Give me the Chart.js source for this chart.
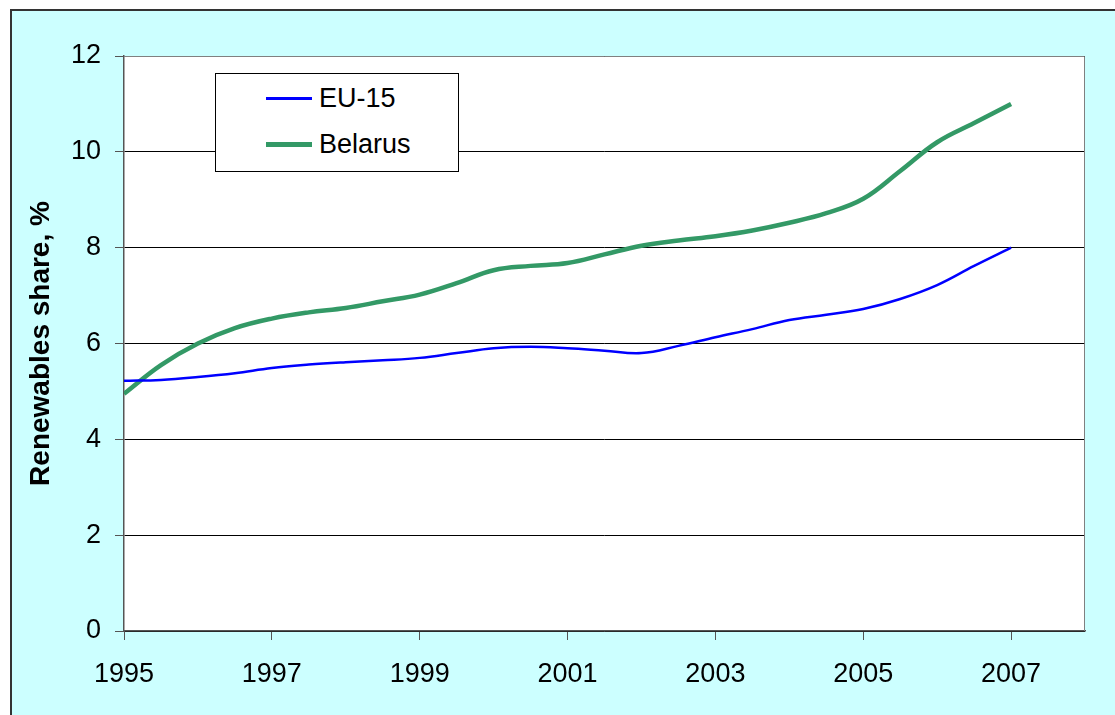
<!DOCTYPE html>
<html>
<head>
<meta charset="utf-8">
<script src="https://cdn.jsdelivr.net/npm/chart.js@4"></script>
<style>
  body { margin: 0; background: #fff; font-family: "Liberation Sans", Arial, sans-serif; }
  #wrap { position: relative; width: 1115px; height: 715px; }
  #legend {
    position: absolute; left: 215px; top: 73px; width: 242px; height: 97px;
    border: 1px solid #000; background: #fff; font-size: 27px; color: #000;
  }
  .row { position: absolute; left: 50px; display: flex; align-items: center; }
  .swatch { width: 46px; margin-right: 7px; }
</style>
</head>
<body>
<div id="wrap">
  <canvas id="myChart" width="1115" height="715"></canvas>
  <div id="legend">
    <div class="row" style="top: 9px;"><span class="swatch" style="border-top: 3px solid #0000ff;"></span>EU-15</div>
    <div class="row" style="top: 55px;"><span class="swatch" style="border-top: 5px solid #339966;"></span>Belarus</div>
  </div>
</div>
<script>
// Half-year points
const years = [1995, 1995.5, 1996, 1996.5, 1997, 1997.5, 1998, 1998.5, 1999, 1999.5, 2000, 2000.5,
  2001, 2001.5, 2002, 2002.5, 2003, 2003.5, 2004, 2004.5, 2005, 2005.5, 2006, 2006.5, 2007];
const eu15 = [5.22, 5.24, 5.3, 5.38, 5.49, 5.56, 5.61, 5.65, 5.7, 5.8, 5.9, 5.93,
  5.9, 5.85, 5.8, 5.95, 6.13, 6.3, 6.49, 6.6, 6.72, 6.93, 7.22, 7.62, 8.0];
const belarus = [4.95, 5.55, 6.0, 6.32, 6.52, 6.65, 6.74, 6.88, 7.02, 7.26, 7.53, 7.62,
  7.68, 7.86, 8.04, 8.15, 8.24, 8.36, 8.52, 8.72, 9.02, 9.6, 10.2, 10.6, 11.0];
const xTickYears = [1995, 1997, 1999, 2001, 2003, 2005, 2007];

// backgrounds: cyan frame and white plot area
const frame = {
  id: 'frame',
  beforeDraw(chart) {
    const c = chart.ctx, a = chart.chartArea;
    c.save();
    c.fillStyle = '#ffffff';
    c.fillRect(0, 0, chart.width, chart.height);
    c.fillStyle = '#ccffff';
    c.fillRect(11, 10, chart.width - 11, chart.height - 10);
    c.strokeStyle = '#333333';
    c.lineWidth = 2;
    c.beginPath();
    c.moveTo(11, chart.height); c.lineTo(11, 10); c.lineTo(chart.width, 10);
    c.stroke();
    c.fillStyle = '#ffffff';
    c.fillRect(a.left, a.top, a.right - a.left, a.bottom - a.top);
    c.restore();
  },
  afterDatasetsDraw(chart) {
    const c = chart.ctx, a = chart.chartArea;
    c.save();
    c.strokeStyle = '#808080';
    c.lineWidth = 1;
    c.beginPath();
    c.moveTo(a.left, a.top + 0.5); c.lineTo(a.right - 0.5, a.top + 0.5); c.lineTo(a.right - 0.5, a.bottom);
    c.stroke();
    c.restore();
  }
};

const ctx = document.getElementById('myChart');

new Chart(ctx, {
  type: 'line',
  data: {
    datasets: [{
      label: 'EU-15',
      data: years.map((y, i) => ({ x: y, y: eu15[i] })),
      borderColor: '#0000ff',
      borderWidth: 2.5,
      pointRadius: 0,
      tension: 0.4
    }, {
      label: 'Belarus',
      data: years.map((y, i) => ({ x: y, y: belarus[i] })),
      borderColor: '#339966',
      borderWidth: 4.5,
      pointRadius: 0,
      tension: 0.4
    }]
  },
  plugins: [frame],
  options: {
    responsive: false,
    animation: false,
    layout: { padding: { left: 0, top: 56, right: 30, bottom: 0 } },
    plugins: { legend: { display: false }, tooltip: { enabled: false } },
    scales: {
      x: {
        type: 'linear',
        min: 1995,
        max: 2008,
        afterBuildTicks: s => { s.ticks = xTickYears.map(v => ({ value: v })); },
        afterFit: s => { s.height = 84; },
        grid: { drawOnChartArea: false, tickLength: 9, color: '#555555' },
        border: { color: '#555555', width: 1.5 },
        ticks: {
          padding: 18,
          color: '#000',
          font: { family: 'Liberation Sans', size: 27 },
          maxRotation: 0,
          callback: v => String(v)
        }
      },
      y: {
        min: 0,
        max: 12,
        afterFit: s => { s.width = 124; },
        grid: { color: '#000000', lineWidth: 1, tickLength: 9, tickColor: '#555555' },
        border: { color: '#555555', width: 1.5 },
        ticks: {
          stepSize: 2,
          padding: 14,
          color: '#000',
          font: { family: 'Liberation Sans', size: 27 }
        },
        title: {
          display: true,
          text: 'Renewables share, %',
          color: '#000',
          padding: { top: 24, bottom: 0 },
          font: { family: 'Liberation Sans', size: 28, weight: 'bold' }
        }
      }
    }
  }
});
</script>
</body>
</html>
